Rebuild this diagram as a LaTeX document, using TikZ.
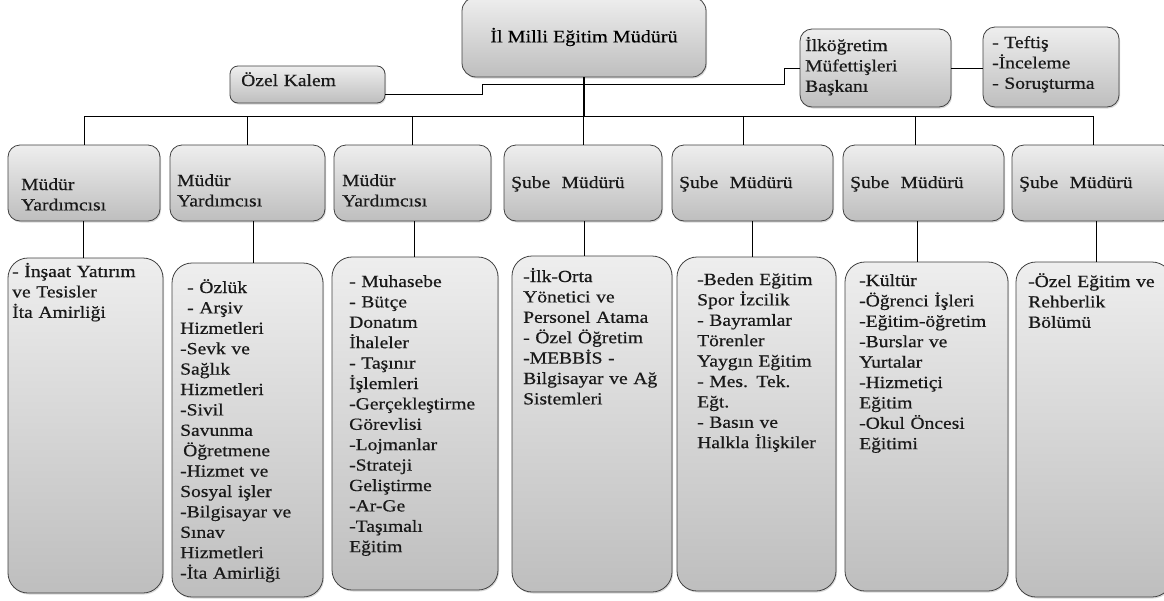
\documentclass[tikz,border=0pt]{standalone}
\usepackage{fontspec}
\setmainfont{Liberation Serif}[FakeStretch=1.15,FakeBold=0.5]
\usetikzlibrary{shadows}
\definecolor{boxtop}{RGB}{238,238,238}
\definecolor{boxbot}{RGB}{190,190,190}
\definecolor{boxline}{RGB}{65,65,65}
\begin{document}
\begin{tikzpicture}[x=1pt,y=-1pt]
	\tikzstyle{box}=[draw=boxline,line width=0.8pt,top color=boxtop,bottom color=boxbot,rounded corners=12pt,inner sep=0,drop shadow={shadow xshift=1pt,shadow yshift=-1.5pt,opacity=0.3}]
	\tikzstyle{tall}=[box,rounded corners=20pt]
	\tikzstyle{lbl}=[anchor=base west,inner sep=0,align=left,text width=150pt,text=black!90,font=\fontsize{17}{20.4}\selectfont]
	\tikzstyle{conn}=[draw=black,line width=0.7pt]
	
	\useasboundingbox (0,0) rectangle (1164,600);
	\fill [white] (0,0) rectangle (1164,600);
	
	\node [box,rounded corners=14pt,minimum width=244pt,minimum height=80pt,font=\fontsize{17.5}{21}\selectfont] (tb) at (584,37) {İl Milli Eğitim Müdürü};
	\node [box,rounded corners=8pt,minimum width=155pt,minimum height=37pt] (ok) at (307.5,84.5) {};
	\node [box,minimum width=151pt,minimum height=78pt] (ilk) at (875.5,68) {};
	\node [box,minimum width=136pt,minimum height=80pt] (tef) at (1051,67) {};
	
	\node [box,minimum width=152pt,minimum height=76pt] (m1) at (  84,183) {};
	\node [box,minimum width=155pt,minimum height=76pt] (m2) at (247.5,183) {};
	\node [box,minimum width=157pt,minimum height=76pt] (m3) at (412.5,183) {};
	\node [box,minimum width=158pt,minimum height=76pt] (m4) at ( 583,183) {};
	\node [box,minimum width=161pt,minimum height=76pt] (m5) at (752.5,183) {};
	\node [box,minimum width=161pt,minimum height=76pt] (m6) at (923.5,183) {};
	\node [box,minimum width=162pt,minimum height=76pt] (m7) at (1093,183) {};
	
	\node [tall,minimum width=155pt,minimum height=335pt] (s1) at (85.5,425.5) {};
	\node [tall,minimum width=151pt,minimum height=334pt] (s2) at (247.5,430) {};
	\node [tall,minimum width=166pt,minimum height=333pt] (s3) at ( 415,423.5) {};
	\node [tall,minimum width=160pt,minimum height=336pt] (s4) at ( 592,424) {};
	\node [tall,minimum width=159pt,minimum height=334pt] (s5) at (756.5,424) {};
	\node [tall,minimum width=163pt,minimum height=329pt] (s6) at (926.5,426.5) {};
	\node [tall,minimum width=156pt,minimum height=335pt] (s7) at (1094,429.5) {};
	
	\node [lbl] (ok-t) at (241,86) {Özel Kalem};
	\node [lbl] (ilk-t) at (805,51) {İlköğretim\\Müfettişleri\\Başkanı};
	\node [lbl] (tef-t) at (992,48) {- Teftiş\\-İnceleme\\- Soruşturma};
	
	\node [lbl] (m1-t) at ( 21,190) {Müdür\\Yardımcısı};
	\node [lbl] (m2-t) at (177,186) {Müdür\\Yardımcısı};
	\node [lbl] (m3-t) at (342,186) {Müdür\\Yardımcısı};
	\node [lbl] (m4-t) at (511,188) {Şube~ Müdürü};
	\node [lbl] (m5-t) at (679,188) {Şube~ Müdürü};
	\node [lbl] (m6-t) at (850,188) {Şube~ Müdürü};
	\node [lbl] (m7-t) at (1019,188) {Şube~ Müdürü};
	
	\node [lbl] (s1-t) at ( 12,277) {- İnşaat Yatırım\\ve Tesisler\\İta Amirliği};
	\node [lbl] (s2-t) at (180,293) {\hspace*{7pt}- Özlük\\\hspace*{7pt}- Arşiv\\Hizmetleri\\-Sevk ve\\Sağlık\\Hizmetleri\\-Sivil\\Savunma\\\hspace*{3pt}Öğretmene\\-Hizmet ve\\Sosyal işler\\-Bilgisayar ve\\Sınav\\Hizmetleri\\-İta Amirliği};
	\node [lbl] (s3-t) at (349,287) {- Muhasebe\\- Bütçe\\Donatım\\İhaleler\\- Taşınır\\İşlemleri\\-Gerçekleştirme\\Görevlisi\\-Lojmanlar\\-Strateji\\Geliştirme\\-Ar-Ge\\-Taşımalı\\Eğitim};
	\node [lbl] (s4-t) at (523,282) {-İlk-Orta\\Yönetici ve\\Personel Atama\\- Özel Öğretim\\-MEBBİS -\\Bilgisayar ve Ağ\\Sistemleri};
	\node [lbl] (s5-t) at (697,285) {-Beden Eğitim\\Spor İzcilik\\- Bayramlar\\Törenler\\Yaygın Eğitim\\- Mes. Tek.\\Eğt.\\- Basın ve\\Halkla İlişkiler};
	\node [lbl] (s6-t) at (859,286) {-Kültür\\-Öğrenci İşleri\\-Eğitim-öğretim\\-Burslar ve\\Yurtalar\\-Hizmetiçi\\Eğitim\\-Okul Öncesi\\Eğitimi};
	\node [lbl] (s7-t) at (1028,287) {-Özel Eğitim ve\\Rehberlik\\Bölümü};
	
	\coordinate (bus) at (0,116);
	\coordinate (ko) at (482,84);
	\coordinate (ki) at (784,84);
	
	\draw [conn,line width=1.4pt] (tb.south) -- (tb.south |- bus);
	\draw [conn] ([yshift=-10pt]ok.east) -| (ko) -- (ki) |- (ilk.west);
	\draw [conn] (ilk.east) -- (ilk.east -| tef.west);
	\draw [conn] (m1.north |- bus) -- (m7.north |- bus);
	\foreach \n/\d in {m1/0,m2/0,m3/0,m4/0,m5/-9.5,m6/-8.5,m7/0}
		\draw [conn] ([xshift=\d pt]\n.north |- bus) -- ([xshift=\d pt]\n.north);
	\foreach \a/\b/\d in {m1/s1/-1,m2/s2/5.5,m3/s3/1.5,m4/s4/1,m5/s5/0,m6/s6/-6.5,m7/s7/3}
		\draw [conn] ([xshift=\d pt]\a.south) -- ([xshift=\d pt]\a.south |- \b.north);
\end{tikzpicture}
\end{document}
